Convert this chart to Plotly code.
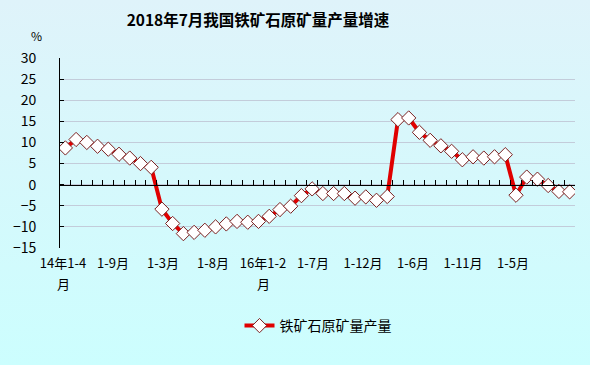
import base64
import plotly.graph_objects as go

# ---- data ----
categories = (
    [f"2014年1-{m}月" for m in range(4, 13)]
    + [f"2015年1-{m}月" for m in range(2, 13)]
    + [f"2016年1-{m}月" for m in range(2, 13)]
    + [f"2017年1-{m}月" for m in range(2, 13)]
    + [f"2018年1-{m}月" for m in range(2, 8)]
)
growth = [8.7, 10.7, 10.0, 9.1, 8.4, 7.2, 6.3, 5.0, 4.1,
          -5.8, -9.2, -11.6, -11.3, -10.8, -10.0, -9.3, -8.7, -8.9, -8.7, -7.5,
          -5.9, -5.1, -2.6, -1.0, -2.1, -2.1, -2.1, -3.2, -2.9, -3.7, -2.8,
          15.4, 15.8, 12.4, 10.5, 9.2, 7.9, 5.9, 6.6, 6.3, 6.6, 7.1,
          -2.5, 1.8, 1.3, -0.2, -1.6, -1.7]
tick_labels = ["14年1-4", "1-9月", "1-3月", "1-8月", "16年1-2",
               "1-7月", "1-12月", "1-6月", "1-11月", "1-5月"]
wrapped = {0: "月", 4: "月"}   # second line of wrapped tick labels
y_ticks = list(range(-15, 31, 5))

W, H = 590, 365
L, R, T, B = 60, 15, 58, 117
pw, ph = W - L - R, H - T - B

idx = list(range(len(categories)))

fig = go.Figure()
fig.add_trace(go.Scatter(
    x=idx, y=growth, mode="lines+markers", name="铁矿石原矿量产量",
    text=categories, hovertemplate="%{text}: %{y}%<extra></extra>",
    line=dict(color="#E00000", width=4),
    marker=dict(symbol="diamond", size=11, color="white",
                line=dict(color="#7A2020", width=1)),
    xaxis="x", yaxis="y",
))

svg = ('<svg xmlns="http://www.w3.org/2000/svg" width="590" height="365">'
       '<defs><linearGradient id="g" x1="0" y1="0" x2="0" y2="1">'
       '<stop offset="0" stop-color="#DFF3FA"/><stop offset="1" stop-color="#CCFEFE"/>'
       '</linearGradient></defs><rect width="590" height="365" fill="url(#g)"/></svg>')
src = "data:image/svg+xml;base64," + base64.b64encode(svg.encode()).decode()

font = "Noto Sans CJK SC, Liberation Sans, sans-serif"

fig.update_layout(
    width=W, height=H,
    margin=dict(l=L, r=R, t=T, b=B, pad=0, autoexpand=False),
    paper_bgcolor="#D4F8FC", plot_bgcolor="rgba(0,0,0,0)",
    font=dict(family=font, size=12, color="black"),
    images=[dict(source=src, xref="paper", yref="paper",
                 x=-L / pw, y=1 + T / ph, sizex=W / pw, sizey=H / ph,
                 xanchor="left", yanchor="top", sizing="stretch", layer="below")],
    title=dict(text="<b>2018年7月我国铁矿石原矿量产量增速</b>",
               x=258 / W, xanchor="center", xref="container",
               y=1 - 21 / H, yanchor="middle", yref="container",
               font=dict(size=15.5, family=font, color="black")),
    showlegend=True,
    legend=dict(orientation="h", x=(318 - L) / pw, xanchor="center",
                y=(T + ph - 326) / ph, yanchor="middle",
                bgcolor="rgba(0,0,0,0)", font=dict(size=14, family=font)),
    xaxis=dict(range=[-0.5, len(idx) - 0.5], anchor="free", position=15 / 45,
               showline=True, linecolor="black", linewidth=1,
               ticks="inside", ticklen=5, tickcolor="black",
               tickmode="array", tickvals=[i + 0.5 for i in idx[:-1]],
               showticklabels=False, showgrid=False, zeroline=False,
               automargin=False),
    xaxis3=dict(overlaying="x", anchor="y", side="bottom",
                range=[-0.06, 10.24], tickmode="array",
                tickvals=list(range(len(tick_labels))), ticktext=tick_labels,
                ticks="outside", ticklen=3, tickcolor="rgba(0,0,0,0)",
                showgrid=False, showline=False, zeroline=False,
                automargin=False, tickfont=dict(size=13, family=font)),
    yaxis=dict(range=[-15, 30], tickmode="array", tickvals=y_ticks,
               showline=True, linecolor="black", linewidth=1,
               ticks="inside", ticklen=4, tickcolor="black",
               ticklabelstandoff=20, automargin=False,
               showgrid=True, gridcolor="#C3CCDA", gridwidth=1,
               zeroline=False, tickfont=dict(size=14, family=font)),
)
# invisible trace to make xaxis3 render
fig.add_trace(go.Scatter(x=[0], y=[None], xaxis="x3", yaxis="y",
                         showlegend=False, hoverinfo="skip"))

for k, txt in wrapped.items():
    fig.add_annotation(text=txt, xref="x3", yref="paper", x=k,
                       y=-(283 - T - ph) / ph, yanchor="middle",
                       showarrow=False, font=dict(size=13, family=font))

fig.add_annotation(text="%", xref="paper", yref="paper",
                   x=(29 - L) / pw, y=1 + (T - 35) / ph, yanchor="middle",
                   showarrow=False, font=dict(size=12, family=font))

fig.write_html("out.html", config={"displayModeBar": False},
               post_script="document.body.style.margin='0';document.body.style.overflow='hidden';")
